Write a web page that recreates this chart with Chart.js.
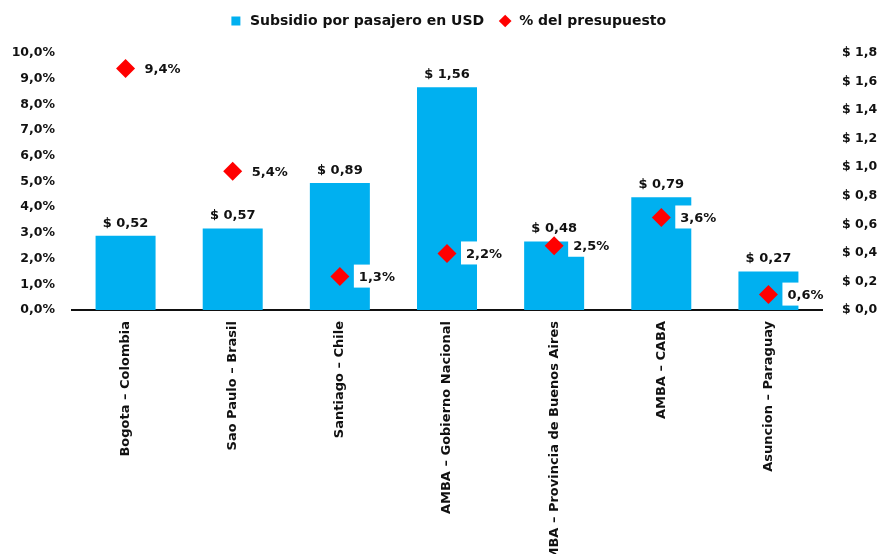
<!DOCTYPE html>
<html>
<head>
<meta charset="utf-8">
<script src="https://cdn.jsdelivr.net/npm/chart.js@4"></script>
<style>
  html, body { margin: 0; padding: 0; background: #fff; overflow: hidden; }
  #wrap { width: 895px; height: 580px; }
</style>
</head>
<body>
<div id="wrap"><canvas id="chart" width="895" height="580"></canvas></div>
<script>
const categories = [
  "Bogota – Colombia",
  "Sao Paulo – Brasil",
  "Santiago – Chile",
  "AMBA – Gobierno Nacional",
  "AMBA – Provincia de Buenos Aires",
  "AMBA – CABA",
  "Asuncion – Paraguay"
];
const subsidyUsd = [0.52, 0.57, 0.89, 1.56, 0.48, 0.79, 0.27];
const budgetPct = [9.4, 5.4, 1.3, 2.2, 2.5, 3.6, 0.6];
const pctTicks = [0, 1, 2, 3, 4, 5, 6, 7, 8, 9, 10];
const usdTicks = [0, 0.2, 0.4, 0.6, 0.8, 1.0, 1.2, 1.4, 1.6, 1.8];

const FONT = "'DejaVu Sans', sans-serif";
const comma = (v, d) => v.toFixed(d).replace(".", ",");

// value labels: "$ x,xx" above bars, "x,x%" in a white box next to diamonds
const labelPlugin = {
  id: "labels",
  afterDatasetsDraw(chart) {
    const ctx = chart.ctx;
    ctx.save();
    ctx.font = "bold 13px " + FONT;
    ctx.fillStyle = "#111";
    ctx.textAlign = "center";
    ctx.textBaseline = "bottom";
    chart.getDatasetMeta(0).data.forEach((bar, i) => {
      ctx.fillText("$ " + comma(subsidyUsd[i], 2), bar.x, bar.y - 6);
    });
    ctx.textAlign = "left";
    ctx.textBaseline = "middle";
    chart.getDatasetMeta(1).data.forEach((pt, i) => {
      const txt = comma(budgetPct[i], 1) + "%";
      const w = ctx.measureText(txt).width;
      ctx.fillStyle = "#fff";
      ctx.fillRect(pt.x + 14, pt.y - 12, w + 9, 23);
      ctx.fillStyle = "#111";
      ctx.fillText(txt, pt.x + 19, pt.y + 1);
    });
    ctx.restore();
  }
};

// extra room between the legend and the plot
const legendGap = {
  id: "legendGap",
  beforeInit(chart) {
    const fit = chart.legend.fit;
    chart.legend.fit = function () {
      fit.call(this);
      this.height += 15;
    };
  }
};

new Chart(document.getElementById("chart"), {
  data: {
    labels: categories,
    datasets: [
      {
        type: "bar",
        label: "Subsidio por pasajero en USD",
        data: subsidyUsd,
        yAxisID: "y1",
        backgroundColor: "#00b0f0",
        pointStyle: "rect",
        barPercentage: 0.56,
        categoryPercentage: 1,
        order: 2
      },
      {
        type: "line",
        label: "% del presupuesto",
        data: budgetPct,
        yAxisID: "y",
        showLine: false,
        pointStyle: "rectRot",
        pointRadius: 9.5,
        backgroundColor: "#ff0000",
        borderColor: "#ff0000",
        borderWidth: 0,
        order: 1
      }
    ]
  },
  options: {
    responsive: false,
    animation: false,
    plugins: {
      tooltip: { enabled: false },
      legend: {
        position: "top",
        labels: {
          usePointStyle: true,
          boxHeight: 9,
          padding: 14,
          color: "#111",
          font: { family: FONT, size: 14, weight: "bold" },
          sort: (a, b) => a.datasetIndex - b.datasetIndex
        }
      }
    },
    scales: {
      x: {
        grid: { display: false, drawTicks: false },
        border: { display: true, color: "#111", width: 2 },
        ticks: {
          minRotation: 90,
          maxRotation: 90,
          padding: 11,
          color: "#111",
          font: { family: FONT, size: 13, weight: "bold" }
        },
        afterFit(s) { s.height = 270; }
      },
      y: {
        position: "left",
        min: 0,
        max: 10,
        afterBuildTicks(s) { s.ticks = pctTicks.map(v => ({ value: v })); },
        grid: { display: false, drawTicks: false },
        border: { display: false },
        ticks: {
          padding: 17,
          color: "#111",
          font: { family: FONT, size: 12.5, weight: "bold" },
          callback: v => comma(v, 1) + "%"
        },
        afterFit(s) { s.width = 72; }
      },
      y1: {
        position: "right",
        min: 0,
        max: 1.8,
        afterBuildTicks(s) { s.ticks = usdTicks.map(v => ({ value: v })); },
        grid: { display: false, drawTicks: false },
        border: { display: false },
        ticks: {
          padding: 20,
          color: "#111",
          font: { family: FONT, size: 12.5, weight: "bold" },
          callback: v => "$ " + comma(v, 1)
        },
        afterFit(s) { s.width = 73; }
      }
    }
  },
  plugins: [legendGap, labelPlugin]
});
</script>
</body>
</html>
